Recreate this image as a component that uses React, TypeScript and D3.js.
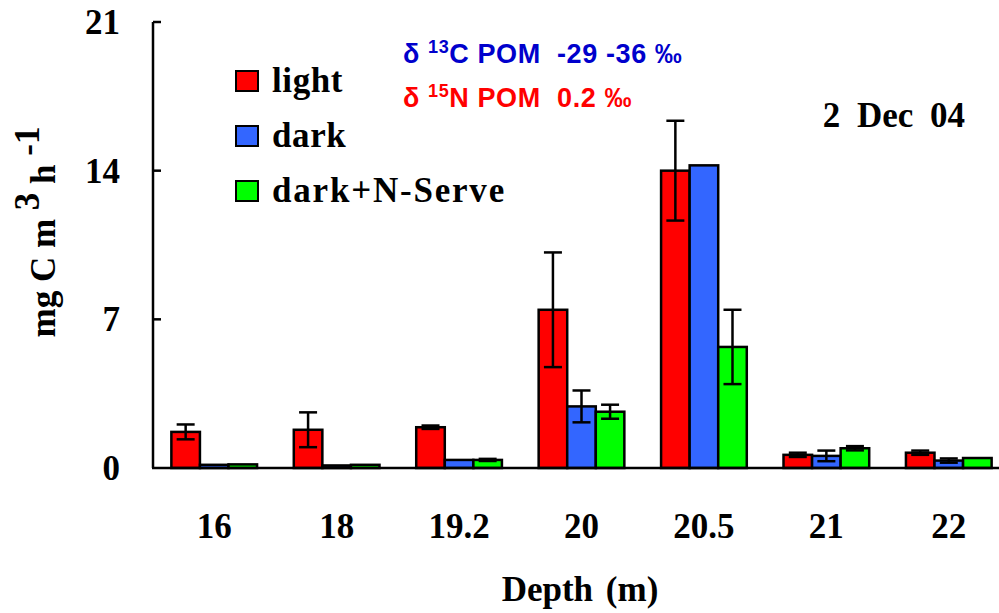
import { useRef, useEffect } from 'react';
import * as d3 from 'd3';

const depths = ['16', '18', '19.2', '20', '20.5', '21', '22'];
const seriesNames = ['light', 'dark', 'dark+N-Serve'];
const lightVals = [1.7, 1.8, 1.92, 7.45, 14.0, 0.62, 0.72];
const lightErr = [0.35, 0.82, 0.08, 2.7, 2.35, 0.1, 0.1];
const darkVals = [0.15, 0.12, 0.38, 2.9, 14.25, 0.57, 0.35];
const darkErr = [0, 0, 0, 0.75, 0, 0.25, 0.1];
const nserveVals = [0.17, 0.15, 0.38, 2.65, 5.7, 0.93, 0.47];
const nserveErr = [0, 0, 0.05, 0.33, 1.75, 0.1, 0];
const yTicks = [0, 7, 14, 21];
const colors = ['#ff0000', '#3366ff', '#00ff00'];

const serif = '"Liberation Serif", "Times New Roman", serif';
const sans = '"Liberation Sans", Arial, sans-serif';

const Chart = () => {
    const ref = useRef(null);

    useEffect(() => {
        const svg = d3.select(ref.current);
        svg.selectAll('*').remove();

        const left = 153, right = 1010, top = 22, bottom = 468;

        const x = d3.scaleBand().domain(depths).range([left, right])
            .paddingInner(0.3).paddingOuter(0.15);
        const xs = d3.scaleBand().domain(seriesNames).range([0, x.bandwidth()]);
        const y = d3.scaleLinear().domain([0, 21]).range([bottom, top]);

        const rows = depths.map((d, i) => ({
            depth: d,
            vals: [
                { s: seriesNames[0], v: lightVals[i], e: lightErr[i], c: colors[0] },
                { s: seriesNames[1], v: darkVals[i], e: darkErr[i], c: colors[1] },
                { s: seriesNames[2], v: nserveVals[i], e: nserveErr[i], c: colors[2] },
            ],
        }));

        const g = svg.append('g');
        const groups = g.selectAll('.grp').data(rows).enter().append('g')
            .attr('transform', d => `translate(${x(d.depth)},0)`);

        groups.selectAll('rect').data(d => d.vals).enter().append('rect')
            .attr('x', d => xs(d.s))
            .attr('y', d => y(d.v))
            .attr('width', xs.bandwidth())
            .attr('height', d => y(0) - y(d.v))
            .attr('fill', d => d.c)
            .attr('stroke', '#000')
            .attr('stroke-width', 2.5);

        const eb = groups.selectAll('.err').data(d => d.vals.filter(v => v.e > 0)).enter()
            .append('g').attr('stroke', '#000').attr('stroke-width', 2.5);
        eb.append('line')
            .attr('x1', d => xs(d.s) + xs.bandwidth() / 2)
            .attr('x2', d => xs(d.s) + xs.bandwidth() / 2)
            .attr('y1', d => y(d.v + d.e))
            .attr('y2', d => y(d.v - d.e));
        [1, -1].forEach(sign => {
            eb.append('line')
                .attr('x1', d => xs(d.s) + xs.bandwidth() / 2 - 9)
                .attr('x2', d => xs(d.s) + xs.bandwidth() / 2 + 9)
                .attr('y1', d => y(d.v + sign * d.e))
                .attr('y2', d => y(d.v + sign * d.e));
        });

        // axes
        svg.append('line').attr('x1', left).attr('x2', left).attr('y1', top).attr('y2', bottom)
            .attr('stroke', '#000').attr('stroke-width', 2.5);
        svg.append('line').attr('x1', left - 1).attr('x2', 999).attr('y1', bottom).attr('y2', bottom)
            .attr('stroke', '#000').attr('stroke-width', 2.5);
        svg.selectAll('.ytick').data(yTicks.filter(t => t > 0)).enter().append('line')
            .attr('x1', left).attr('x2', left + 8)
            .attr('y1', d => y(d)).attr('y2', d => y(d))
            .attr('stroke', '#000').attr('stroke-width', 2.5);
        svg.selectAll('.ylab').data(yTicks).enter().append('text')
            .attr('x', 120).attr('y', d => y(d) + 12)
            .attr('text-anchor', 'end')
            .attr('font-family', serif).attr('font-weight', 'bold').attr('font-size', 35)
            .text(d => d);
        svg.selectAll('.xlab').data(depths).enter().append('text')
            .attr('x', d => x(d) + x.bandwidth() / 2).attr('y', 538)
            .attr('text-anchor', 'middle')
            .attr('font-family', serif).attr('font-weight', 'bold').attr('font-size', 35)
            .text(d => d);

        svg.append('text').attr('x', 580).attr('y', 601).attr('text-anchor', 'middle')
            .attr('font-family', serif).attr('font-weight', 'bold').attr('font-size', 35)
            .attr('word-spacing', 4)
            .text('Depth (m)');

        const yl = svg.append('text').attr('transform', 'translate(55,232) rotate(-90)')
            .attr('text-anchor', 'middle')
            .attr('font-family', serif).attr('font-weight', 'bold').attr('font-size', 35)
            .style('white-space', 'pre');
        yl.append('tspan').text('mg C m ');
        yl.append('tspan').attr('dy', -16).text('3');
        yl.append('tspan').attr('dy', 16).text(' h ');
        yl.append('tspan').attr('dy', -16).text('-1');

        // legend
        const leg = svg.selectAll('.leg').data(seriesNames).enter().append('g')
            .attr('transform', (d, i) => `translate(236,${71 + i * 55})`);
        leg.append('rect').attr('width', 22).attr('height', 20)
            .attr('fill', (d, i) => colors[i]).attr('stroke', '#000').attr('stroke-width', 2);
        leg.append('text').attr('x', 36).attr('y', 21)
            .attr('font-family', serif).attr('font-weight', 'bold').attr('font-size', 35)
            .attr('letter-spacing', (d, i) => (i === 2 ? 1.8 : 0.6))
            .text(d => d);

        svg.append('text').attr('x', 965).attr('y', 127).attr('text-anchor', 'end')
            .attr('font-family', serif).attr('font-weight', 'bold').attr('font-size', 35)
            .attr('word-spacing', 8)
            .text('2 Dec 04');

        const a1 = svg.append('text').attr('x', 403).attr('y', 63)
            .attr('font-family', sans).attr('font-weight', 'bold').attr('font-size', 27)
            .attr('letter-spacing', 0.6)
            .attr('fill', '#0000cc').style('white-space', 'pre');
        a1.append('tspan').text('δ ');
        a1.append('tspan').attr('dy', -10).attr('font-size', 18).text('13');
        a1.append('tspan').attr('dy', 10).text('C POM  -29 -36 ‰');

        const a2 = svg.append('text').attr('x', 403).attr('y', 107)
            .attr('font-family', sans).attr('font-weight', 'bold').attr('font-size', 27)
            .attr('letter-spacing', 0.6)
            .attr('fill', '#ff0000').style('white-space', 'pre');
        a2.append('tspan').text('δ ');
        a2.append('tspan').attr('dy', -10).attr('font-size', 18).text('15');
        a2.append('tspan').attr('dy', 10).text('N POM  0.2 ‰');
    }, []);

    return <svg ref={ref} width={999} height={613}
        style={{ position: 'absolute', left: 0, top: 0, background: '#fff' }} />;
};

export default function App() {
    return <Chart />;
}
